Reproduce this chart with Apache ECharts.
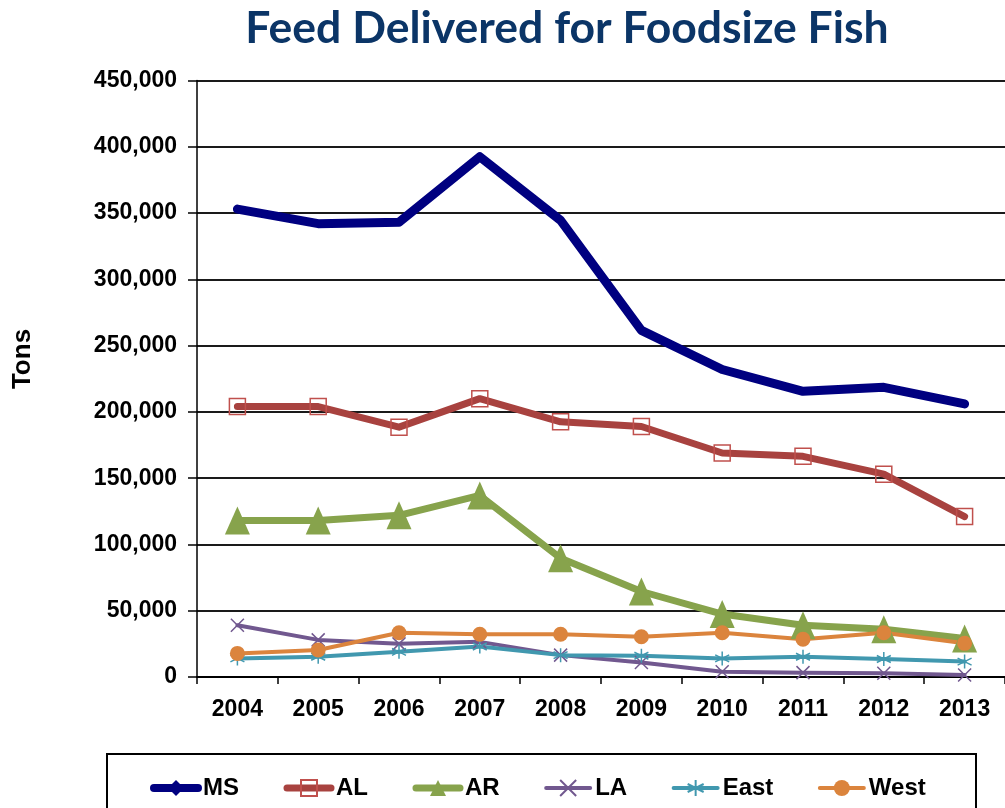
<!DOCTYPE html>
<html>
<head>
<meta charset="utf-8">
<script src="https://cdn.jsdelivr.net/npm/echarts@6/dist/echarts.min.js"></script>
<style>
html,body{margin:0;padding:0;background:#fff;}
#chart{width:1005px;height:808px;}
</style>
</head>
<body>
<div id="chart"></div>
<script>
const titleText = 'Feed Delivered for Foodsize Fish';
const yAxisTitle = 'Tons';
const categories = ['2004','2005','2006','2007','2008','2009','2010','2011','2012','2013'];
const seriesNames = ['MS','AL','AR','LA','East','West'];
const msValues   = [353000, 342000, 343000, 392500, 344500, 261500, 232000, 215500, 218500, 206000];
const alValues   = [204000, 204000, 188500, 210000, 192500, 189000, 169000, 166500, 153000, 121000];
const arValues   = [118000, 118000, 122000, 137000, 89500, 64500, 47500, 39000, 36000, 29000];
const laValues   = [39000, 28000, 25000, 26500, 16500, 11000, 4000, 3300, 2800, 1500];
const eastValues = [14000, 15300, 19000, 23000, 16500, 16000, 14000, 15300, 13600, 11600];
const westValues = [17800, 20400, 33400, 32200, 32200, 30400, 33400, 28500, 33400, 25400];
const yMin = 0, yMax = 450000, yStep = 50000;

const font = '"Liberation Sans", Arial, sans-serif';
const chart = echarts.init(document.getElementById('chart'), null, {renderer: 'canvas'});

function lineSeries(name, data, color, width, symbol, size, itemStyle) {
  return {
    name, type: 'line', data, symbol, symbolSize: size, z: 2,
    lineStyle: {color, width, cap: 'round', join: 'round'},
    itemStyle: itemStyle,
    emphasis: {disabled: true},
    animation: false
  };
}

const xPath = 'path://M0,0L10,10M10,0L0,10';
const starPath = 'path://M5,0L5,10M0,2.5L10,7.5M0,7.5L10,2.5';
const legendWidths = [8, 7, 7, 4, 4, 4];

const option = {
  backgroundColor: '#fff',
  animation: false,
  graphic: [
    {type: 'text', x: 567, y: 29, z: 10,
     style: {text: titleText, font: 'bold 44.5px Lato, "Open Sans", sans-serif', fill: '#0b3567', align: 'center', verticalAlign: 'middle'}},
    {type: 'text', x: 23, y: 359, rotation: Math.PI / 2, z: 10,
     style: {text: yAxisTitle, font: 'bold 26px ' + font, fill: '#000', align: 'center', verticalAlign: 'middle'}},
    {type: 'rect', z: 0, shape: {x: 107, y: 754, width: 869, height: 120},
     style: {fill: 'none', stroke: '#000', lineWidth: 2}}
  ],
  legend: {
    data: seriesNames.map((n, i) => ({name: n, lineStyle: {width: legendWidths[i], cap: 'round'}})),
    left: 145, top: 771,
    itemWidth: 44, itemHeight: 20, itemGap: 44.5,
    textStyle: {fontFamily: font, fontWeight: 'bold', fontSize: 24, color: '#000'},
    selectedMode: false
  },
  grid: {left: 197, top: 80.5, width: 814, height: 596.5, containLabel: false},
  xAxis: {
    type: 'category', data: categories, boundaryGap: true,
    axisLine: {lineStyle: {color: '#000', width: 2}},
    axisTick: {show: true, length: 7, lineStyle: {color: '#000', width: 1.5}},
    axisLabel: {margin: 21, fontFamily: font, fontWeight: 'bold', fontSize: 23, color: '#000'},
    splitLine: {show: false}
  },
  yAxis: {
    type: 'value', min: yMin, max: yMax, interval: yStep,
    axisLine: {show: true, lineStyle: {color: '#000', width: 1.5}},
    axisTick: {show: true, length: 9, lineStyle: {color: '#000', width: 1.5}},
    axisLabel: {margin: 20, fontFamily: font, fontWeight: 'bold', fontSize: 23, color: '#000',
      formatter: v => v.toLocaleString('en-US')},
    splitLine: {show: true, lineStyle: {color: '#1a1a1a', width: 2}}
  },
  series: [
    lineSeries('MS', msValues, '#000080', 9, 'diamond', 8, {color: '#000080'}),
    lineSeries('AL', alValues, '#a8423f', 7, 'rect', 16, {color: 'rgba(0,0,0,0)', borderColor: '#c0504d', borderWidth: 1.5}),
    lineSeries('AR', arValues, '#87a34c', 7, 'triangle', [25, 28], {color: '#87a34c'}),
    lineSeries('LA', laValues, '#71588f', 4, xPath, 13, {color: 'rgba(0,0,0,0)', borderColor: '#71588f', borderWidth: 1.5}),
    lineSeries('East', eastValues, '#4198af', 4, starPath, 14, {color: 'rgba(0,0,0,0)', borderColor: '#4198af', borderWidth: 1.5}),
    lineSeries('West', westValues, '#db843d', 4, 'circle', 15, {color: '#db843d'})
  ]
};
chart.setOption(option);
</script>
</body>
</html>
